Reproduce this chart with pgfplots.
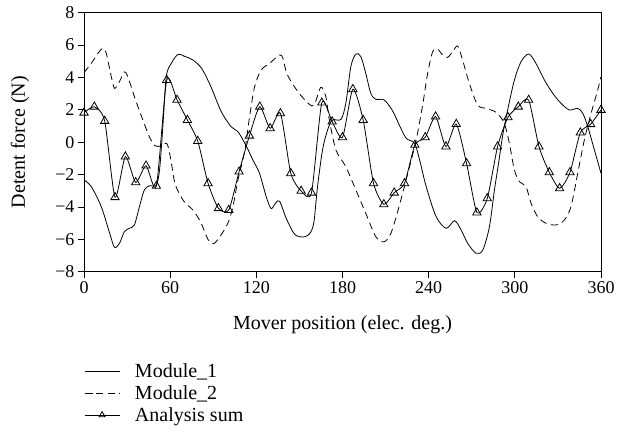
\documentclass[border=0pt]{standalone}
\usepackage{fontspec}
\setmainfont{Liberation Serif}
\usepackage{pgfplots}
\pgfplotsset{compat=1.18}

% Detent force of the two modules over one electrical period
\pgfplotstableread{
x y
0 -2.33
5.1 -2.75
12 -3.98
17.9 -5.63
21.2 -6.49
24.7 -6.25
28.1 -5.53
31.6 -5.32
35.1 -5.11
38.6 -3.98
42.0 -2.95
45.5 -2.70
50.3 -2.64
52.6 -1.72
54.9 0.96
57.3 4.05
60.8 4.87
65.5 5.43
70.1 5.30
75.8 5.08
82.0 4.55
88.5 3.40
95.5 1.90
102.5 0.95
107.2 0.65
112.5 -0.15
117.6 -1.10
122.2 -1.92
126.9 -3.37
130.3 -4.10
133.5 -3.75
136.2 -3.65
140.8 -4.70
145.4 -5.53
148 -5.78
152.2 -5.86
156 -5.75
158.5 -5.45
160.3 -4.81
162.6 -2.75
166.1 -0.48
169.6 0.75
173.0 1.37
178.9 1.41
182.3 2.40
185.8 4.66
189.3 5.45
192.8 5.28
196.2 4.26
199.7 3.02
203.2 2.65
209.0 2.61
214.8 1.95
219.6 1.05
224.4 0.24
230.2 -0.07
233.7 -1.10
238.3 -2.75
245.2 -4.60
252.2 -5.32
258.0 -4.85
262.6 -5.42
267.2 -6.25
273.0 -6.86
277.7 -6.66
282.3 -5.22
285.8 -2.95
288.5 -1.40
291.6 0.45
295.0 1.99
299.7 3.84
304.3 4.97
309.7 5.45
314.7 4.87
320.6 3.84
326.4 3.02
332.2 2.40
338.0 1.99
343.8 2.09
347.3 1.78
350.8 0.96
355.4 -0.48
360 -1.92
}\moduleone

\pgfplotstableread{
x y
0 4.30
5.1 4.87
9.7 5.49
13.2 5.80
15.5 5.49
19.0 4.05
21.3 3.33
24.7 3.74
28.1 4.35
30.5 4.05
35.1 2.81
39.7 1.68
45.5 0.34
49.4 -0.22
53.6 -0.23
57.8 -0.10
60.5 -1.10
63.5 -2.60
69.3 -3.62
75.8 -4.19
81.3 -4.95
86.3 -6.00
90.2 -6.27
94.6 -5.84
100.2 -5.01
103.7 -3.98
107.2 -2.33
111.8 -0.60
115.3 1.58
118.8 3.43
123.4 4.46
129.2 4.87
136.2 5.39
138.5 5.18
140.8 4.35
143.5 3.85
149.8 3.02
156.8 2.35
160.3 2.30
164.9 3.39
168.4 2.81
170.7 1.45
175.4 -0.48
182.3 -1.51
189.3 -2.95
196.2 -4.39
203.2 -5.84
209.0 -6.15
213.7 -5.63
219.0 -4.10
225.5 -1.92
231.3 0.14
236.0 2.40
239.3 4.26
242.8 5.59
246.3 5.74
249.7 5.39
253.2 5.24
256.7 5.59
260.2 5.94
263.6 5.08
268.3 3.64
274.1 2.30
279.8 2.09
286.8 1.85
292.5 1.20
296.2 -0.07
299.7 -1.72
303.2 -2.44
307.8 -2.75
311.3 -3.77
315.9 -4.60
321.7 -5.01
328.7 -5.11
334.5 -4.81
339.1 -3.98
343.8 -1.92
348.4 0.14
353.1 1.78
357.7 3.22
360 4.05
}\moduletwo

% Sum of both modules, sampled every 7.2 degrees
\pgfplotstableread{
x y
0 1.82
7.2 2.19
14.4 1.31
21.6 -3.40
28.8 -0.89
36 -2.48
43.2 -1.45
50.4 -2.70
57.6 3.84
64.8 2.61
72 1.37
79.2 0.07
86.4 -2.54
93.6 -4.08
100.8 -4.19
108 -1.82
115.2 0.40
122.4 2.19
129.6 0.86
136.8 1.78
144 -1.92
151.2 -3.01
158.4 -3.12
165.6 2.44
172.8 1.27
180 0.30
187.2 3.27
194.4 1.37
201.6 -2.54
208.8 -3.84
216 -3.12
223.2 -2.54
230.4 -0.17
237.6 0.30
244.8 1.58
252 -0.27
259.2 1.12
266.4 -1.31
273.6 -4.35
280.8 -3.47
288 -0.27
295.2 1.54
302.4 2.19
309.6 2.61
316.8 -0.27
324 -1.86
331.2 -2.85
338.4 -1.86
345.6 0.59
352.8 1.11
360 1.99
}\analysissum

\begin{document}
\begin{tikzpicture}
\useasboundingbox (-84pt,-162.3pt) rectangle (545pt,271.7pt);
\begin{axis}[
  at={(0pt,0pt)}, anchor=south west,
  scale only axis, width=517pt, height=259pt,
  xmin=0, xmax=360, ymin=-8, ymax=8,
  xtick={0,60,...,360},
  ytick={-8,-6,...,8},
  yticklabels={−8,−6,−4,−2,0,2,4,6,8},
  xtick pos=bottom, ytick pos=left,
  tick align=outside,
  major tick length=6pt,
  tick style={line width=0.8pt, black},
  axis line style={line width=0.8pt},
  /pgf/number format/assume math mode=true,
  ticklabel style={font=\fontsize{18}{18}\selectfont},
  label style={font=\fontsize{20}{20}\selectfont},
  xlabel={Mover position (elec. deg.)},
  ylabel={Detent force (N)},
  xlabel style={at={(axis description cs:0.5,-0.206)}, anchor=center},
  ylabel style={at={(axis description cs:-0.124,0.5)}, anchor=center},
  legend style={
    at={(axis description cs:0,-0.346)}, anchor=north west,
    draw=none, fill=none, inner sep=0pt,
    font=\fontsize{20}{23.5}\selectfont,
    row sep=2.5pt, column sep=13pt,
    cells={anchor=west},
  },
  legend image code/.code={
    \draw[mark repeat=2,mark phase=2,#1,mark size=3.4pt]
      plot coordinates {(0pt,0pt) (17.5pt,0pt) (35pt,0pt)};
  },
  legend cell align=left,
]
\addplot[black, line width=0.8pt, smooth, tension=0.5] table {\moduleone};
\addlegendentry{Module\_1}
\addplot[black, line width=0.8pt, smooth, tension=0.5, dash pattern=on 7pt off 4.5pt] table {\moduletwo};
\addlegendentry{Module\_2}
\addplot[black, line width=0.8pt, smooth, tension=0.4,
  mark=triangle, mark size=4.8pt,
  mark options={solid, fill=white, line width=0.8pt}] table {\analysissum};
\addlegendentry{Analysis sum}
\end{axis}
\end{tikzpicture}
\end{document}
